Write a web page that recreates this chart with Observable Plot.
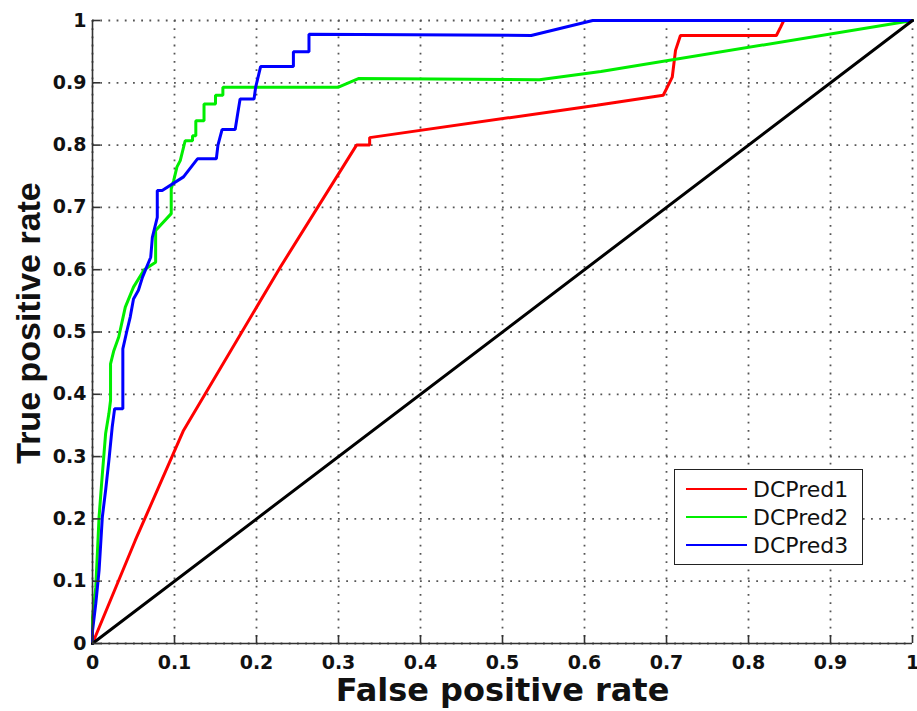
<!DOCTYPE html>
<html>
<head>
<meta charset="utf-8">
<script src="https://cdn.jsdelivr.net/npm/d3@7"></script>
<script src="https://cdn.jsdelivr.net/npm/@observablehq/plot@0.6"></script>
<style>
  html, body { margin: 0; padding: 0; background: #fff; }
  #wrap { position: relative; width: 917px; height: 711px; }
  #legend {
    position: absolute; left: 674px; top: 469px; width: 187px; height: 94px;
    border: 1.5px solid #222; background: #fff;
    font-family: "DejaVu Sans", Arial, sans-serif; font-size: 22px; color: #111;
    box-sizing: content-box;
  }
  #legend .row { position: absolute; left: 0; height: 28px; display: flex; align-items: center; }
  #legend .sw { width: 61px; height: 0; border-top: 2.5px solid; margin-left: 11px; margin-right: 6px; }
</style>
</head>
<body>
<div id="wrap"></div>
<script>
// ---- data ----
const xTicks = [0, 0.1, 0.2, 0.3, 0.4, 0.5, 0.6, 0.7, 0.8, 0.9, 1];
const xTickLabels = ["0", "0.1", "0.2", "0.3", "0.4", "0.5", "0.6", "0.7", "0.8", "0.9", "1"];
const yTicks = [0, 0.1, 0.2, 0.3, 0.4, 0.5, 0.6, 0.7, 0.8, 0.9, 1];
const yTickLabels = ["0", "0.1", "0.2", "0.3", "0.4", "0.5", "0.6", "0.7", "0.8", "0.9", "1"];

const seriesNames = ["DCPred1", "DCPred2", "DCPred3"];
const seriesColors = ["#ff0000", "#00ee00", "#0000ff"];

const dcpred1 = [[0,0],[0.052,0.165],[0.111,0.342],[0.229,0.604],[0.322,0.800],[0.338,0.800],[0.338,0.812],
  [0.615,0.864],[0.696,0.880],[0.701,0.893],[0.707,0.909],[0.711,0.952],[0.717,0.976],[0.834,0.976],
  [0.839,0.989],[0.843,1],[1,1]];

const dcpred2 = [[0,0],[0,0.042],[0.004,0.090],[0.008,0.203],[0.012,0.272],[0.016,0.337],[0.020,0.369],
  [0.022,0.390],[0.022,0.449],[0.026,0.470],[0.032,0.492],[0.040,0.540],[0.050,0.572],[0.063,0.600],
  [0.077,0.612],[0.077,0.663],[0.096,0.690],[0.096,0.730],[0.099,0.743],[0.103,0.765],[0.107,0.775],
  [0.113,0.807],[0.122,0.807],[0.122,0.815],[0.126,0.815],[0.126,0.839],[0.136,0.839],[0.136,0.866],
  [0.150,0.866],[0.150,0.880],[0.159,0.880],[0.159,0.893],[0.300,0.893],[0.325,0.907],[0.545,0.905],
  [0.620,0.918],[1,1]];

const dcpred3 = [[0,0],[0,0.020],[0.004,0.064],[0.008,0.117],[0.012,0.203],[0.016,0.246],[0.020,0.294],
  [0.024,0.347],[0.027,0.377],[0.037,0.377],[0.037,0.473],[0.042,0.502],[0.046,0.524],[0.050,0.553],
  [0.056,0.567],[0.061,0.588],[0.065,0.601],[0.071,0.620],[0.073,0.652],[0.079,0.684],[0.079,0.727],
  [0.085,0.727],[0.111,0.749],[0.128,0.778],[0.151,0.778],[0.153,0.800],[0.158,0.825],[0.174,0.825],
  [0.177,0.850],[0.180,0.874],[0.197,0.874],[0.199,0.893],[0.205,0.926],[0.245,0.926],[0.245,0.950],
  [0.264,0.950],[0.264,0.978],[0.535,0.976],[0.610,1],[1,1]];

const chance = [[0,0],[1,1]];

const series = [dcpred1, dcpred2, dcpred3];

// ---- chart ----
const wideFont = "'DejaVu Sans', Arial, sans-serif";
const tallFont = "'Liberation Sans', Arial, Helvetica, sans-serif";
const tickFontSize = 19;
const lineMarks = series.map((s, i) =>
  Plot.line(s, {x: d => d[0], y: d => d[1], stroke: seriesColors[i], strokeWidth: 3, strokeLinejoin: "miter"}));

const chart = Plot.plot({
  width: 917,
  height: 711,
  marginLeft: 92,
  marginRight: 5,
  marginTop: 20,
  marginBottom: 68,
  style: {fontFamily: wideFont, fontSize: tickFontSize + "px", background: "#fff", color: "#111", overflow: "visible"},
  x: {domain: [0, 1]},
  y: {domain: [0, 1]},
  marks: [
    Plot.gridX(xTicks, {stroke: "#555", strokeOpacity: 1, strokeWidth: 1.8, strokeDasharray: "1.8,6.4"}),
    Plot.gridY(yTicks, {stroke: "#555", strokeOpacity: 1, strokeWidth: 1.8, strokeDasharray: "1.8,6.4"}),
    ...lineMarks,
    Plot.line(chance, {x: d => d[0], y: d => d[1], stroke: "#000", strokeWidth: 3}),
    Plot.ruleX([0], {stroke: "#333", strokeWidth: 1.6}),
    Plot.ruleY([0], {stroke: "#333", strokeWidth: 1.6}),
    Plot.axisX(xTicks, {tickSize: -8, text: null, stroke: "#333", strokeWidth: 1.6, label: null}),
    Plot.axisY(yTicks, {tickSize: -8, text: null, stroke: "#333", strokeWidth: 1.6, label: null}),
    Plot.axisX(xTicks, {tickSize: 0, tickPadding: 12, fontSize: tickFontSize, fontWeight: "bold", fill: "#111",
      tickFormat: d => xTickLabels[xTicks.indexOf(d)], label: null}),
    Plot.axisY(yTicks, {tickSize: 0, tickPadding: 6, fontSize: tickFontSize, fontWeight: "bold", fill: "#111",
      tickFormat: d => yTickLabels[yTicks.indexOf(d)], label: null}),
    Plot.text(["False positive rate"], {frameAnchor: "bottom", textAnchor: "middle", lineAnchor: "middle",
      dy: 47, fontSize: 32, fontWeight: "bold", fill: "#111"}),
    Plot.text(["True positive rate"], {frameAnchor: "left", textAnchor: "middle", lineAnchor: "middle",
      dx: -63, dy: -9, rotate: -90, fontSize: 34, fontWeight: "bold", fill: "#111", fontFamily: tallFont})
  ]
});

// make sure tick labels get the intended size and weight
d3.select(chart).selectAll("g[aria-label='x-axis tick label'], g[aria-label='y-axis tick label']")
  .attr("font-size", tickFontSize).attr("font-weight", "bold")
  .selectAll("text").attr("font-size", tickFontSize);

const wrap = document.getElementById("wrap");
wrap.appendChild(chart);

// legend overlay
const legend = document.createElement("div");
legend.id = "legend";
seriesNames.forEach((name, i) => {
  const row = document.createElement("div");
  row.className = "row";
  row.style.top = (5 + i * 28) + "px";
  const sw = document.createElement("div");
  sw.className = "sw";
  sw.style.borderTopColor = seriesColors[i];
  const label = document.createElement("span");
  label.textContent = name;
  row.appendChild(sw);
  row.appendChild(label);
  legend.appendChild(row);
});
wrap.appendChild(legend);
</script>
</body>
</html>
